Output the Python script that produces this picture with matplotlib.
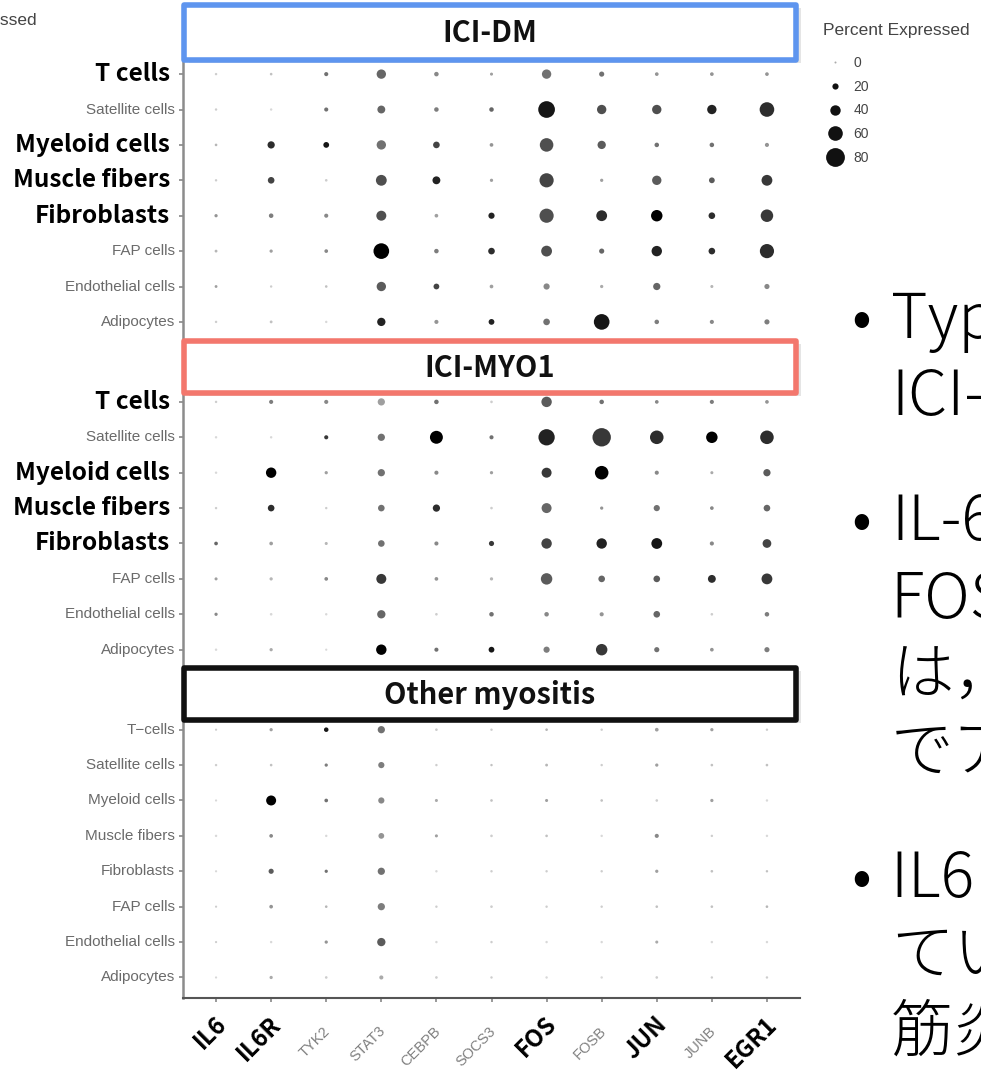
import numpy as np
import matplotlib
matplotlib.use("Agg")
import matplotlib.pyplot as plt
from matplotlib.colors import LinearSegmentedColormap
from matplotlib.patches import Rectangle
from matplotlib.lines import Line2D
import matplotlib.transforms as mtransforms

# ---------------- data ----------------
genes = ["IL6", "IL6R", "TYK2", "STAT3", "CEBPB", "SOCS3", "FOS", "FOSB", "JUN", "JUNB", "EGR1"]
bold_genes = ["IL6", "IL6R", "FOS", "JUN", "EGR1"]
cell_types = ["T cells", "Satellite cells", "Myeloid cells", "Muscle fibers",
              "Fibroblasts", "FAP cells", "Endothelial cells", "Adipocytes"]
cell_types_other = ["T\u2212cells", "Satellite cells", "Myeloid cells", "Muscle fibers",
                    "Fibroblasts", "FAP cells", "Endothelial cells", "Adipocytes"]
bold_cells = ["T cells", "Myeloid cells", "Muscle fibers", "Fibroblasts"]
groups = ["ICI-DM", "ICI-MYO1", "Other myositis"]
group_colors = ["#5e95ef", "#f3776d", "#111111"]
legend_pcts = [0, 20, 40, 60, 80]

# percent expressed (rows = cell types, cols = genes)
pct_dm = [
    [2, 3, 10, 35, 12, 5, 35, 15, 8, 8, 8],
    [2, 2, 10, 28, 12, 12, 70, 35, 35, 35, 60],
    [3, 25, 18, 35, 22, 8, 55, 30, 12, 12, 10],
    [2, 22, 3, 42, 28, 6, 58, 6, 35, 18, 42],
    [6, 12, 10, 38, 8, 20, 58, 42, 45, 22, 50],
    [4, 6, 8, 65, 12, 22, 42, 15, 40, 22, 58],
    [4, 2, 3, 35, 18, 8, 20, 6, 25, 5, 15],
    [2, 4, 2, 30, 10, 18, 22, 65, 12, 10, 15],
]
avg_dm = [
    [.10, .15, .50, .55, .40, .30, .50, .50, .35, .35, .35],
    [.10, .05, .50, .55, .45, .55, .90, .65, .65, .85, .80],
    [.20, .80, .90, .50, .70, .35, .65, .60, .50, .50, .35],
    [.10, .70, .10, .65, .85, .30, .70, .30, .60, .60, .75],
    [.35, .45, .40, .65, .30, .85, .65, .80, 1.0, .80, .75],
    [.20, .30, .40, 1.0, .45, .80, .65, .55, .85, .80, .80],
    [.30, .10, .15, .60, .70, .30, .40, .25, .55, .20, .40],
    [.10, .15, .05, .85, .35, .85, .50, .90, .45, .40, .45],
]
pct_myo1 = [
    [2, 10, 10, 25, 12, 3, 40, 12, 8, 10, 8],
    [2, 2, 10, 25, 52, 10, 68, 78, 55, 45, 55],
    [2, 40, 6, 25, 10, 6, 38, 55, 10, 5, 25],
    [2, 22, 2, 22, 25, 3, 38, 6, 20, 8, 22],
    [8, 8, 5, 22, 10, 15, 40, 40, 42, 10, 32],
    [5, 6, 8, 38, 8, 6, 45, 22, 22, 28, 42],
    [6, 3, 2, 30, 3, 12, 12, 10, 22, 3, 12],
    [2, 6, 1, 40, 10, 18, 20, 45, 15, 8, 15],
]
avg_myo1 = [
    [.10, .45, .40, .30, .50, .10, .60, .50, .40, .45, .35],
    [.05, .05, .75, .50, 1.0, .50, .85, .75, .80, 1.0, .80],
    [.05, 1.0, .30, .50, .40, .30, .75, 1.0, .40, .25, .60],
    [.10, .80, .10, .50, .80, .10, .55, .35, .50, .40, .55],
    [.55, .30, .20, .50, .40, .75, .70, .85, .90, .40, .70],
    [.30, .20, .40, .75, .35, .20, .60, .55, .60, .80, .75],
    [.40, .05, .05, .55, .10, .50, .40, .35, .55, .10, .45],
    [.05, .25, .05, 1.0, .50, .90, .45, .75, .50, .35, .45],
]
pct_other = [
    [1, 6, 12, 25, 3, 2, 3, 2, 8, 6, 2],
    [2, 3, 6, 20, 2, 2, 4, 2, 6, 3, 3],
    [1, 38, 8, 20, 5, 3, 5, 3, 3, 6, 2],
    [2, 8, 2, 18, 5, 3, 3, 2, 10, 2, 2],
    [1, 15, 6, 25, 2, 2, 2, 2, 6, 3, 2],
    [1, 8, 3, 25, 2, 3, 2, 2, 3, 3, 3],
    [1, 2, 6, 30, 2, 2, 2, 2, 5, 2, 2],
    [1, 6, 3, 10, 3, 2, 2, 2, 3, 2, 2],
]
avg_other = [
    [.10, .30, .90, .50, .10, .10, .20, .10, .30, .30, .10],
    [.10, .15, .45, .45, .10, .15, .20, .10, .30, .15, .15],
    [.05, 1.0, .50, .40, .25, .15, .30, .15, .10, .30, .05],
    [.05, .40, .05, .35, .30, .10, .15, .05, .40, .10, .05],
    [.05, .60, .50, .50, .05, .10, .10, .10, .30, .15, .15],
    [.10, .35, .20, .45, .10, .10, .10, .10, .15, .15, .20],
    [.10, .05, .35, .60, .05, .10, .05, .05, .25, .05, .05],
    [.05, .25, .10, .25, .10, .10, .05, .05, .10, .10, .10],
]
pct_all = [pct_dm, pct_myo1, pct_other]
avg_all = [avg_dm, avg_myo1, avg_other]

right_lines = [
    ("\u2022", "Type I IFN\u95a2\u9023\u907a\u4f1d\u5b50\u306e\u767a\u73fe\u306f"),
    ("", "ICI-DM\u3067\u4e0a\u6607\u3057\u3066\u3044\u305f"),
    ("\u2022", "IL-6\u30b7\u30b0\u30ca\u30eb\u95a2\u9023\u907a\u4f1d\u5b50"),
    ("", "FOS, FOSB, JUN, EGR1"),
    ("", "\u306f\uff0cICI-DM\u3068ICI-MYO1"),
    ("", "\u3067\u30a2\u30c3\u30d7\u30ec\u30ae\u30e5\u30ec\u30fc\u30c8"),
    ("\u2022", "IL6 \u53d7\u5bb9\u4f53\u306f\u9aa8\u9ac4\u7cfb\u7d30\u80de\u3067\u767a\u73fe\u3057"),
    ("", "\u3066\u3044\u305f\u304c\uff0c\u4ed6\u306e"),
    ("", "\u7b4b\u708e\u3067\u3082\u540c\u69d8\u3067\u3042\u3063\u305f"),
]
right_baselines = [338, 415, 540, 617, 694, 771, 897, 974, 1051]

# ---------------- helpers ----------------
W, H = 981, 1073
fig = plt.figure(figsize=(W / 100, H / 100), dpi=100, facecolor="white")


def fx(px):
    return px / W


def fy(py):
    return 1 - py / H


def dot_diam_px(p):
    return 2.0 + 0.21 * np.asarray(p, dtype=float)


def dot_size(p):
    return (dot_diam_px(p) * 0.72) ** 2


cmap = LinearSegmentedColormap.from_list("grey_expr", ["#e3e3e3", "#000000"])
GROUP_STEP = 9.26
CJK = ["Noto Sans CJK JP", "DejaVu Sans"]
SANS = ["Liberation Sans", "DejaVu Sans"]

ax = fig.add_axes([fx(183), fy(998), fx(800) - fx(183), fy(55) - fy(998)])
ax.set_xlim(-0.6, 10.6)
ax.set_ylim(26.1, -0.54)

n_rows = len(cell_types)
xs = np.arange(len(genes))
for g in range(len(groups)):
    P = np.array(pct_all[g], dtype=float)
    A = np.array(avg_all[g], dtype=float)
    X, R = np.meshgrid(xs, np.arange(n_rows))
    Y = R + g * GROUP_STEP
    ax.scatter(X.ravel(), Y.ravel(), s=dot_size(P.ravel()), c=A.ravel(), cmap=cmap,
               vmin=0, vmax=1, linewidths=0, zorder=3)

# axes styling
for side in ["top", "right"]:
    ax.spines[side].set_visible(False)
ax.spines["left"].set_color("#8c8c8c")
ax.spines["left"].set_linewidth(1.8)
ax.spines["bottom"].set_color("#555555")
ax.spines["bottom"].set_linewidth(1.5)

ytick_pos = [g * GROUP_STEP + r for g in range(len(groups)) for r in range(n_rows)]
ax.set_yticks(ytick_pos)
ax.set_xticks(xs)
ax.tick_params(axis="both", length=3, width=1.2, color="#888888",
               labelleft=False, labelbottom=False)

# y labels
ytrans = ax.get_yaxis_transform()
for g in range(len(groups)):
    labels = cell_types_other if g == 2 else cell_types
    for r, lab in enumerate(labels):
        yv = g * GROUP_STEP + r
        if g < 2 and lab in bold_cells:
            t = mtransforms.offset_copy(ytrans, fig=fig, x=-13, y=0, units="dots")
            ax.text(0, yv, lab, transform=t, ha="right", va="center", fontsize=17.5,
                    fontweight="bold", color="black", family=CJK)
        else:
            t = mtransforms.offset_copy(ytrans, fig=fig, x=-8, y=0, units="dots")
            ax.text(0, yv, lab, transform=t, ha="right", va="center", fontsize=11,
                    color="#6a6a6a", family=SANS)

# x labels
xtrans = ax.get_xaxis_transform()
for i, gname in enumerate(genes):
    if gname in bold_genes:
        t = mtransforms.offset_copy(xtrans, fig=fig, x=-2, y=-14, units="dots")
        ax.text(i, 0, gname, transform=t, ha="right", va="top", rotation=45,
                rotation_mode="anchor", fontsize=17, fontweight="bold", color="black",
                family=CJK)
    else:
        t = mtransforms.offset_copy(xtrans, fig=fig, x=-3, y=-26, units="dots")
        ax.text(i, 0, gname, transform=t, ha="right", va="top", rotation=45,
                rotation_mode="anchor", fontsize=10.5, color="#808080", family=SANS)

# group header boxes
box_px = [(184, 5, 796, 60), (184, 341, 796, 393), (184, 668, 796, 720)]
for (x0, y0, x1, y1), name, col in zip(box_px, groups, group_colors):
    shadow = Rectangle((fx(x0 + 5), fy(y1 + 3)), fx(x1) - fx(x0), fy(y0) - fy(y1),
                       transform=fig.transFigure, facecolor="#000000", alpha=0.10,
                       edgecolor="none", zorder=4)
    fig.add_artist(shadow)
    rect = Rectangle((fx(x0), fy(y1)), fx(x1) - fx(x0), fy(y0) - fy(y1),
                     transform=fig.transFigure, facecolor="white", edgecolor=col,
                     linewidth=4, joinstyle="round", zorder=5)
    fig.add_artist(rect)
    fig.text(fx((x0 + x1) / 2), fy((y0 + y1) / 2 + 1), name, ha="center", va="center",
             fontsize=21, fontweight="bold", color="#111111", family=CJK, zorder=6)

# size legend
fig.text(fx(823), fy(30), "Percent Expressed", ha="left", va="center", fontsize=12.5,
         color="#444444", family=SANS)
handles = [Line2D([], [], ls="", marker="o", markersize=dot_diam_px(p) * 0.72,
                  markerfacecolor="#111111" if p > 0 else "#aaaaaa",
                  markeredgewidth=0) for p in legend_pcts]
leg = ax.legend(handles, [str(p) for p in legend_pcts],
                loc="upper left", bbox_to_anchor=(fx(823), fy(56)),
                bbox_transform=fig.transFigure, frameon=False, fontsize=10,
                labelspacing=0.7, handlelength=1.7,
                handletextpad=0.5, borderpad=0, borderaxespad=0)
for txt in leg.get_texts():
    txt.set_color("#444444")
    txt.set_family(SANS)

# cut-off legend title at top-left
fig.text(fx(37), fy(21), "Percent Expressed", ha="right", va="center", fontsize=12.5,
         color="#444444", family=SANS)

# right-side slide text
for (bullet, line), base in zip(right_lines, right_baselines):
    if bullet:
        fig.text(fx(861), fy(base), bullet, ha="center", va="baseline", fontsize=45,
                 color="black", family=CJK, fontweight="light")
    fig.text(fx(891), fy(base), line, ha="left", va="baseline", fontsize=45,
             color="black", family=CJK, fontweight="light")

fig.savefig("out.png", dpi=100)
